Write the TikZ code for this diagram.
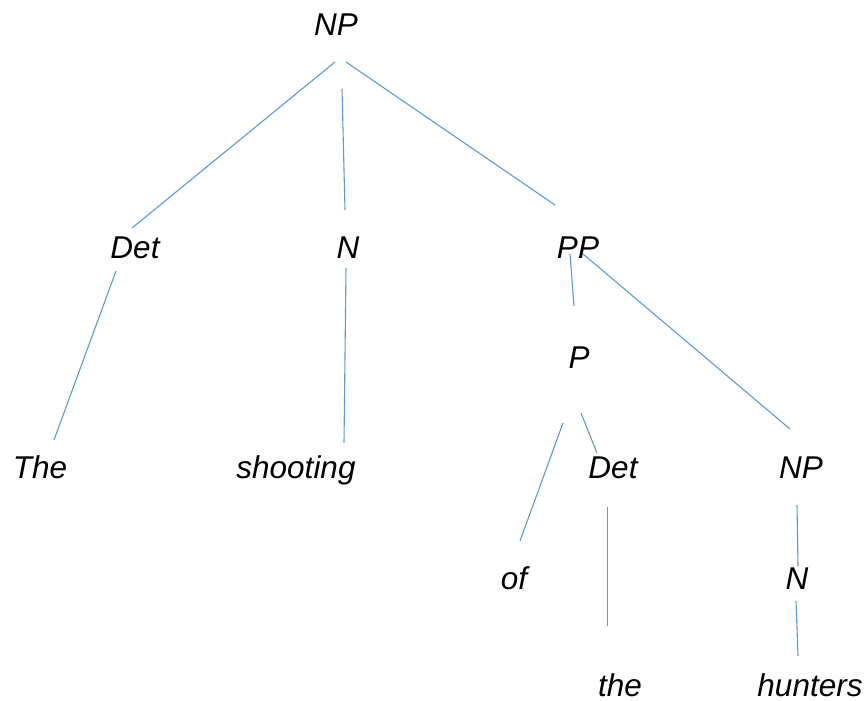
\documentclass[tikz,border=0pt]{standalone}
\usepackage{fontspec}
\setmainfont{Liberation Sans}
\definecolor{edgeblue}{HTML}{5B9BD5}
\begin{document}
\begin{tikzpicture}[x=0.5pt,y=-0.5pt,
  lbl/.style={anchor=base,inner sep=0pt,font=\fontsize{15.75}{18}\selectfont\itshape},
  edge/.style={draw=edgeblue,line width=0.55pt}]
\useasboundingbox (0,0) rectangle (867,701);
% labels
\node[lbl] (np) at (336,36) {NP};
\node[lbl] (det) at (135,258) {Det};
\node[lbl] (n) at (348,258) {N};
\node[lbl] (pp) at (578,258) {PP};
\node[lbl] (p) at (579,368) {P};
\node[lbl] (the) at (40,478) {The};
\node[lbl] (shooting) at (296,478) {shooting};
\node[lbl] (det2) at (613,478) {Det};
\node[lbl] (np2) at (801,478) {NP};
\node[lbl] (of) at (514,589) {of};
\node[lbl] (n2) at (797,589) {N};
\node[lbl] (the2) at (620,696) {the};
\node[lbl] (hunters) at (810,696) {hunters};
% connector ends
\coordinate (a1) at (335,62);  \coordinate (a2) at (132,228);
\coordinate (b1) at (342,89);  \coordinate (b2) at (345,210);
\coordinate (c1) at (346,62);  \coordinate (c2) at (555,205);
\coordinate (d1) at (116,271); \coordinate (d2) at (54,440);
\coordinate (e1) at (346,268); \coordinate (e2) at (344,443);
\coordinate (f1) at (570,254); \coordinate (f2) at (574,306);
\coordinate (g1) at (583,254); \coordinate (g2) at (790,429);
\coordinate (h1) at (563,423); \coordinate (h2) at (520,541);
\coordinate (i1) at (581,413); \coordinate (i2) at (597,453);
\coordinate (j1) at (607.3,507); \coordinate (j2) at (607.3,626);
\coordinate (k1) at (797,505); \coordinate (k2) at (798,566);
\coordinate (l1) at (796,601); \coordinate (l2) at (798,656);
\draw[edge] (a1) -- (a2);
\draw[edge] (b1) -- (b2);
\draw[edge] (c1) -- (c2);
\draw[edge] (d1) -- (d2);
\draw[edge] (e1) -- (e2);
\draw[edge] (f1) -- (f2);
\draw[edge] (g1) -- (g2);
\draw[edge] (h1) -- (h2);
\draw[edge] (i1) -- (i2);
\draw[edge] (j1) -- (j2);
\draw[edge] (k1) -- (k2);
\draw[edge] (l1) -- (l2);
\end{tikzpicture}
\end{document}
